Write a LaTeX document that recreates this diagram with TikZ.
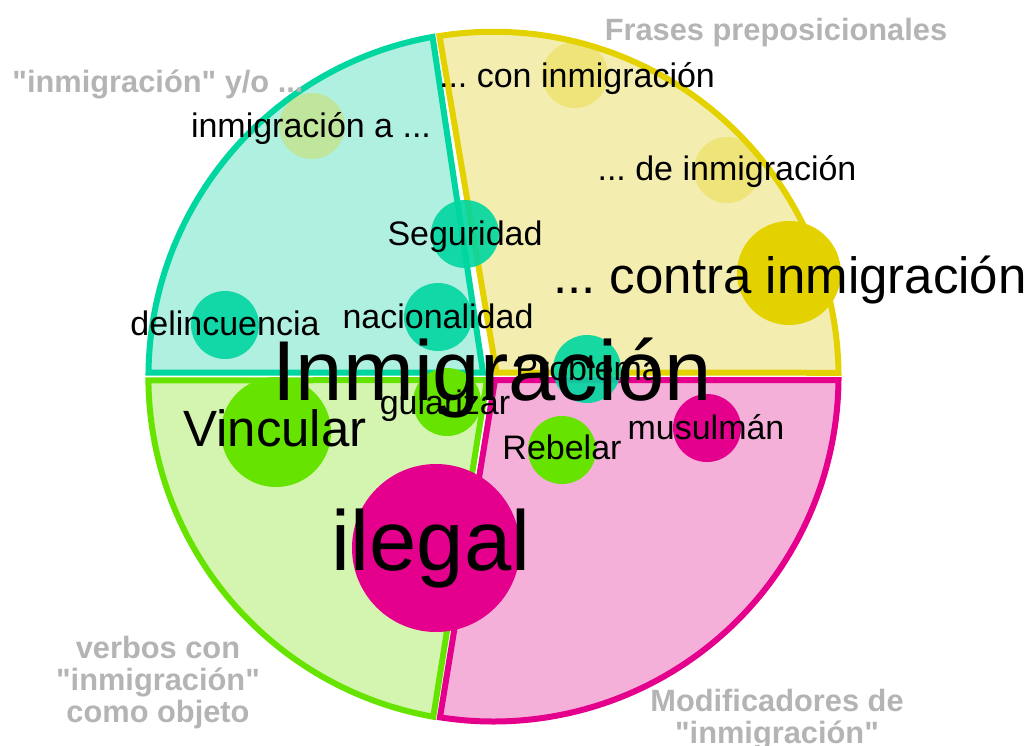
\documentclass[tikz,border=0pt]{standalone}
\usepackage{fontspec}
\setmainfont{Liberation Sans}[Ligatures=TeXOff]
\frenchspacing
\definecolor{tealC}{RGB}{0,214,160}
\definecolor{yelC}{RGB}{228,210,0}
\definecolor{grnC}{RGB}{102,228,0}
\definecolor{pnkC}{RGB}{228,0,140}
\definecolor{tealF}{RGB}{176,240,224}
\definecolor{yelF}{RGB}{243,237,176}
\definecolor{grnF}{RGB}{212,245,176}
\definecolor{pnkF}{RGB}{244,176,216}
\definecolor{grayT}{RGB}{180,180,180}
\begin{document}
\begin{tikzpicture}[x=1pt,y=-1pt,
  region/.style={line width=6pt, line join=miter},
  wd/.style={font=\fontsize{34}{34}\selectfont, anchor=base, inner sep=0pt, text=black},
  wdm/.style={font=\fontsize{51}{51}\selectfont, anchor=base, inner sep=0pt, text=black},
  wdl/.style={font=\fontsize{85}{85}\selectfont, anchor=base, inner sep=0pt, text=black},
  cat/.style={font=\bfseries\fontsize{30.8}{32}\selectfont, text=grayT, anchor=base, inner sep=0pt, align=center}]
\useasboundingbox (0,0) rectangle (1033,745);
% regions
\draw[region, draw=tealC, fill=tealF] (148.5,372.5) arc[start angle=180.66, end angle=259.83, radius=345] -- (483,372.5) -- cycle;
\draw[region, draw=yelC, fill=yelF] (439.5,36) arc[start angle=-99.01, end angle=-0.66, radius=345] -- (496.5,372.5) -- cycle;
\draw[region, draw=pnkC, fill=pnkF] (838.5,380) arc[start angle=0.58, end angle=98.93, radius=345] -- (495,380) -- cycle;
\draw[region, draw=grnC, fill=grnF] (433.3,716.7) arc[start angle=100.03, end angle=179.42, radius=345] -- (487,380) -- cycle;
% bubbles
\fill[yelC, opacity=0.3] (312,126) circle[radius=33];
\fill[yelC, opacity=0.3] (575,75) circle[radius=33];
\fill[yelC, opacity=0.3] (727,170) circle[radius=33];
\fill[yelC] (789,273) circle[radius=52];
\fill[tealC, opacity=0.9] (465,234) circle[radius=34];
\fill[tealC, opacity=0.9] (438,317) circle[radius=34];
\fill[tealC, opacity=0.9] (225,325) circle[radius=34];
\fill[tealC, opacity=0.9] (587,369) circle[radius=34];
\fill[grnC] (276,432) circle[radius=55];
\fill[grnC] (447,402) circle[radius=34];
\fill[grnC] (562,450) circle[radius=34];
\fill[pnkC] (707,428) circle[radius=34];
\fill[pnkC] (436,548) circle[radius=84];
% words
\node[wd] (w1) at (311,137) {inmigración a ...};
\node[wd] (w2) at (577,87) {... con inmigración};
\node[wd] (w3) at (727,180) {... de inmigración};
\node[wdm] (w4) at (790,293) {... contra inmigración};
\node[wd] (w5) at (465,245) {Seguridad};
\node[wd] (w6) at (438,328) {nacionalidad};
\node[wd] (w7) at (225,335) {delincuencia};
\node[wd] (w8) at (588,380) {Problema};
\node[wdm] (w9) at (275,446) {Vincular};
\node[wd] (w10) at (445,414) {gularizar};
\node[wd] (w11) at (562,459) {Rebelar};
\node[wd] (w12) at (706,439) {musulmán};
\node[wdl] (w13) at (431,570) {ilegal};
\node[wdl] (w0) at (492,400) {Inmigración};
% category labels
\node[cat] (c1) at (776,40) {Frases preposicionales};
\node[cat] (c2) at (158,92) {"inmigración" y/o ...};
\node[cat, anchor=north] (c3) at (158,636) {verbos con\\"inmigración"\\como objeto};
\node[cat, anchor=north] (c4) at (777,689) {Modificadores de\\"inmigración"};
\end{tikzpicture}
\end{document}
